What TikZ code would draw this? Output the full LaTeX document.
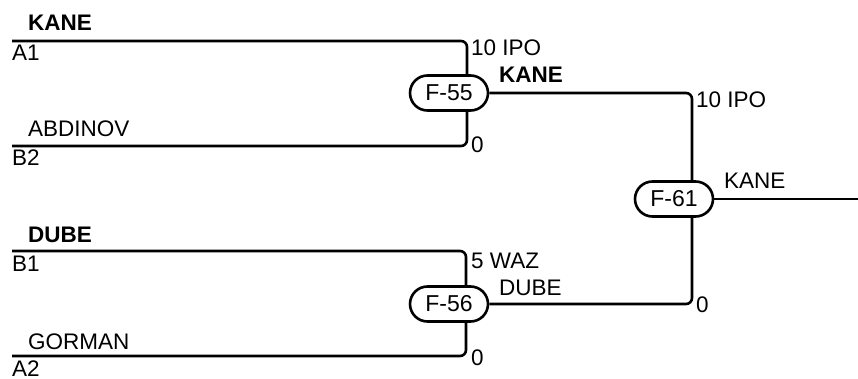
\documentclass[tikz,border=0pt]{standalone}
\usepackage{fontspec}
\setmainfont{Liberation Sans}
\usetikzlibrary{shapes.misc}
\tikzset{
	wire/.style={line width=2.6pt, rounded corners=6pt},
	match/.style={rounded rectangle, draw, line width=2.6pt, fill=white,
		minimum width=78pt, minimum height=35pt, inner sep=0pt,
		font=\fontsize{23}{27}\selectfont},
	lbl/.style={anchor=base west, inner sep=0pt, font=\fontsize{22.5}{26}\selectfont},
	winner/.style={lbl, font=\fontsize{22.5}{26}\selectfont\bfseries}
}
\newcommand{\slot}[4] % name, x, y, seed
{
	% start of a line
	\coordinate (#1) at (#2,#3);
	% seed below the line
	\node[lbl] (#1s) at (#2,#3+20) {#4};
}

\begin{document}
\begin{tikzpicture}[x=1pt,y=-1pt]
	\useasboundingbox (0,0) rectangle (858,379);
	% first round
	\slot{a1}{12}{41}{A1};
	\slot{b2}{12}{146}{B2};
	\slot{b1}{12}{251}{B1};
	\slot{a2}{12}{356}{A2};
	\node[winner] (n1) at (28,31) {KANE};
	\node[lbl] (n2) at (28,137) {ABDINOV};
	\node[winner] (n3) at (28,242) {DUBE};
	\node[lbl] (n4) at (28,349) {GORMAN};
	% matches
	\node[match] (f55) at (449,93) {F-55};
	\node[match] (f56) at (449,304) {F-56};
	\node[match] (f61) at (674,199) {F-61};
	\coordinate (out) at (858,199);
	% wires
	\draw[wire] (a1) -| ([xshift=18pt]f55.north);
	\draw[wire] (b2) -| ([xshift=18pt]f55.south);
	\draw[wire] (b1) -| ([xshift=17pt]f56.north);
	\draw[wire] (a2) -| ([xshift=17pt]f56.south);
	\draw[wire] (f55.east) -| ([xshift=18pt]f61.north);
	\draw[wire] (f56.east) -| ([xshift=18pt]f61.south);
	\draw[wire] (f61.east) -- (out);
	% scores
	\node[lbl] (s1) at (471,56) {10 IPO};
	\node[lbl] (s2) at (471,153) {0};
	\node[lbl] (s3) at (471,268) {5 WAZ};
	\node[lbl] (s4) at (471,365) {0};
	\node[lbl] (s5) at (696,108) {10 IPO};
	\node[lbl] (s6) at (696,312) {0};
	% winners
	\node[winner] (w1) at (499,83) {KANE};
	\node[lbl] (w2) at (499,295) {DUBE};
	\node[lbl] (w3) at (724,189) {KANE};
\end{tikzpicture}
\end{document}
